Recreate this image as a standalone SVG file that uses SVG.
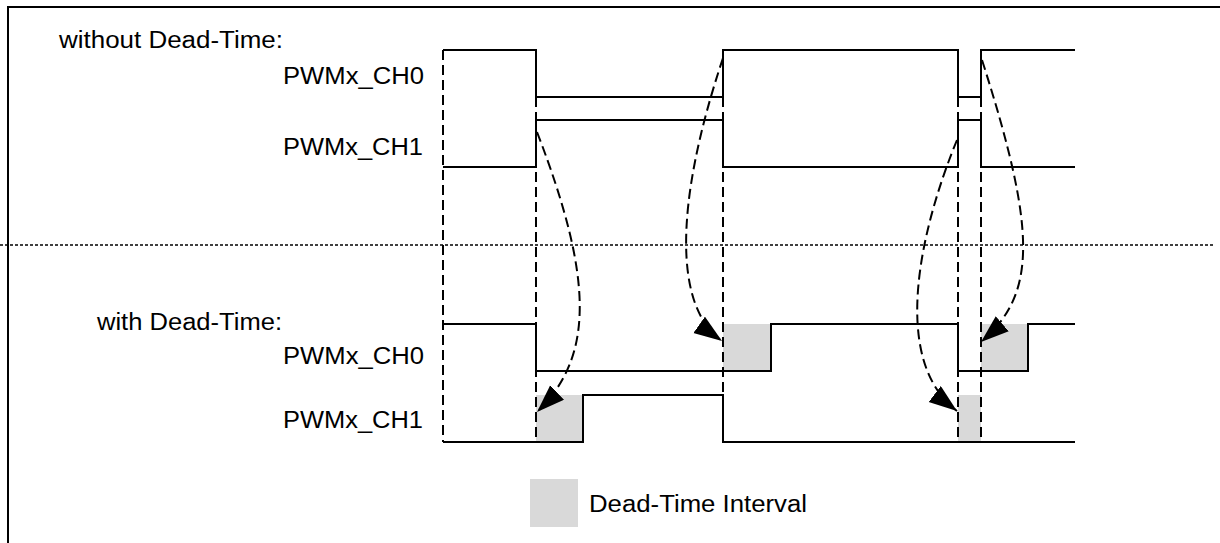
<svg xmlns="http://www.w3.org/2000/svg" width="1220" height="543" viewBox="0 0 1220 543">
<style>
.t{font-family:"Liberation Sans",Arial,sans-serif;font-size:23px;fill:#000}
.w{fill:none;stroke:#000;stroke-width:2;stroke-linejoin:miter}
.v{fill:none;stroke:#000;stroke-width:2;stroke-dasharray:10 5}
.c{fill:none;stroke:#000;stroke-width:2;stroke-dasharray:10 5}
.g{fill:#d9d9d9;stroke:none}
</style>
<defs>
<marker id="ah" markerUnits="userSpaceOnUse" markerWidth="30" markerHeight="22" refX="28" refY="10" orient="auto">
<path d="M0,0 L28,10 L0,20 z" fill="#000"/>
</marker>
</defs>
<rect width="1220" height="543" fill="#fff"/>
<g id="frame">
<path d="M8,543 V7 H1220" fill="none" stroke="#000" stroke-width="2"/>
<line x1="0" y1="245" x2="1215" y2="245" stroke="#000" stroke-width="1.5" stroke-dasharray="3 2"/>
</g>
<g id="labels">
<text class="t" x="59" y="48" textLength="224" lengthAdjust="spacingAndGlyphs">without Dead-Time:</text>
<text class="t" x="283" y="84" textLength="141" lengthAdjust="spacingAndGlyphs">PWMx_CH0</text>
<text class="t" x="283" y="155" textLength="140" lengthAdjust="spacingAndGlyphs">PWMx_CH1</text>
<text class="t" x="97" y="330" textLength="185" lengthAdjust="spacingAndGlyphs">with Dead-Time:</text>
<text class="t" x="283" y="364" textLength="141" lengthAdjust="spacingAndGlyphs">PWMx_CH0</text>
<text class="t" x="283" y="428" textLength="140" lengthAdjust="spacingAndGlyphs">PWMx_CH1</text>
</g>
<g id="deadtime">
<rect class="g" x="723" y="324" width="48" height="47"/>
<rect class="g" x="981" y="324" width="47" height="47"/>
<rect class="g" x="536" y="395" width="47" height="47"/>
<rect class="g" x="958" y="395" width="23" height="47"/>
</g>
<g id="gridlines">
<line class="v" x1="443" y1="50" x2="443" y2="442"/>
<line class="v" x1="536" y1="97" x2="536" y2="442"/>
<line class="v" x1="723" y1="97" x2="723" y2="442"/>
<line class="v" x1="958" y1="97" x2="958" y2="442"/>
<line class="v" x1="981" y1="97" x2="981" y2="442"/>
</g>
<g id="ch0-nodt">
<path class="w" d="M443,50 H536 V97 H723 V50 H958 V97 H981 V50 H1075"/>
</g>
<g id="ch1-nodt">
<path class="w" d="M443,167 H536 V120 H723 V167 H958 V120 H981 V167 H1075"/>
</g>
<g id="ch0-dt">
<path class="w" d="M443,324 H536 V371 H771 V324 H958 V371 H1028 V324 H1075"/>
</g>
<g id="ch1-dt">
<path class="w" d="M443,442 H583 V395 H723 V442 H1075"/>
</g>
<g id="connectors">
<path class="c" d="M537,132 C594,280 594,357 537,412" marker-end="url(#ah)"/>
<path class="c" d="M723,58 C674,205 674,307 722,341" marker-end="url(#ah)"/>
<path class="c" d="M957,140 C920,230 890,360 957,411" marker-end="url(#ah)"/>
<path class="c" d="M982,60 C1037,232 1037,294 981,342" marker-end="url(#ah)"/>
</g>
<g id="legend">
<rect class="g" x="530" y="479" width="48" height="48"/>
<text class="t" x="589" y="512" textLength="218" lengthAdjust="spacingAndGlyphs">Dead-Time Interval</text>
</g>
</svg>
